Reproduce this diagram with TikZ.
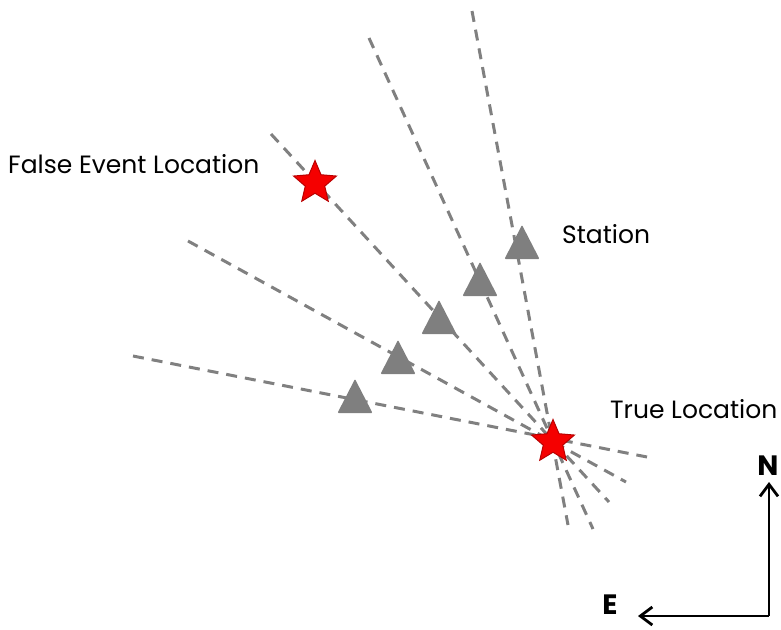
\documentclass[tikz,border=0pt]{standalone}
\usepackage{fontspec}
\setmainfont{Poppins}
\usetikzlibrary{shapes.geometric,arrows.meta}
\definecolor{raygray}{RGB}{128,128,128}
\definecolor{stgray}{RGB}{127,127,127}
\definecolor{starred}{RGB}{245,0,0}
\definecolor{stardark}{RGB}{185,0,0}
\tikzset{
  ray/.style={draw=raygray, line width=3pt, dash pattern=on 11pt off 8pt},
  redstar/.style={star, star points=5, star point ratio=2.2, fill=starred, draw=stardark, line width=1pt, minimum size=45pt, inner sep=0pt},
  lbl/.style={font=\fontsize{25}{30}\selectfont, anchor=base west, inner sep=0pt, text=black},
  dirlbl/.style={font=\fontsize{28}{32}\selectfont\bfseries, inner sep=0pt, text=black},
  compass/.style={line width=2.8pt, -{Straight Barb[length=12pt,width=18pt,line width=2.8pt]}}
}
\newcommand{\stationtri}[3]{%
  \coordinate (#1) at (#2,#3);
  \fill[stgray, rounded corners=1pt] (#2,#3) -- ++(17.5,34) -- ++(-35,0) -- cycle;}
\begin{document}
\begin{tikzpicture}[x=1pt,y=-1pt]
\useasboundingbox (0,0) rectangle (781,629);
% ray end points
\coordinate (a1) at (133,356); \coordinate (b1) at (647,457);
\coordinate (a2) at (188,241); \coordinate (b2) at (626,482);
\coordinate (a3) at (271,134); \coordinate (b3) at (609,502);
\coordinate (a4) at (369,38);  \coordinate (b4) at (593,529);
\coordinate (a5) at (472,11);  \coordinate (b5) at (568,525);
\foreach \i in {1,...,5} {\draw[ray] (a\i) -- (b\i);}
% stars
\node[redstar] (true) at (553,442) {};
\node[redstar] (false) at (315,183) {};
% stations
\stationtri{s1}{355}{379}
\stationtri{s2}{398}{340}
\stationtri{s3}{439}{300}
\stationtri{s4}{480}{262}
\stationtri{s5}{522}{225}
% labels
\node[lbl] (lfalse) at (8,173) {False Event Location};
\node[lbl] (lstation) at (562,243) {Station};
\node[lbl] (ltrue) at (610,418) {True Location};
% compass
\coordinate (corner) at (769,616);
\coordinate (ntip) at (769,482);
\coordinate (etip) at (638,616);
\draw[compass] (corner) -- (ntip);
\draw[compass] (corner) -- (etip);
\node[dirlbl] (nl) at (768,466) {N};
\node[dirlbl] (el) at (610,605) {E};
\end{tikzpicture}
\end{document}
